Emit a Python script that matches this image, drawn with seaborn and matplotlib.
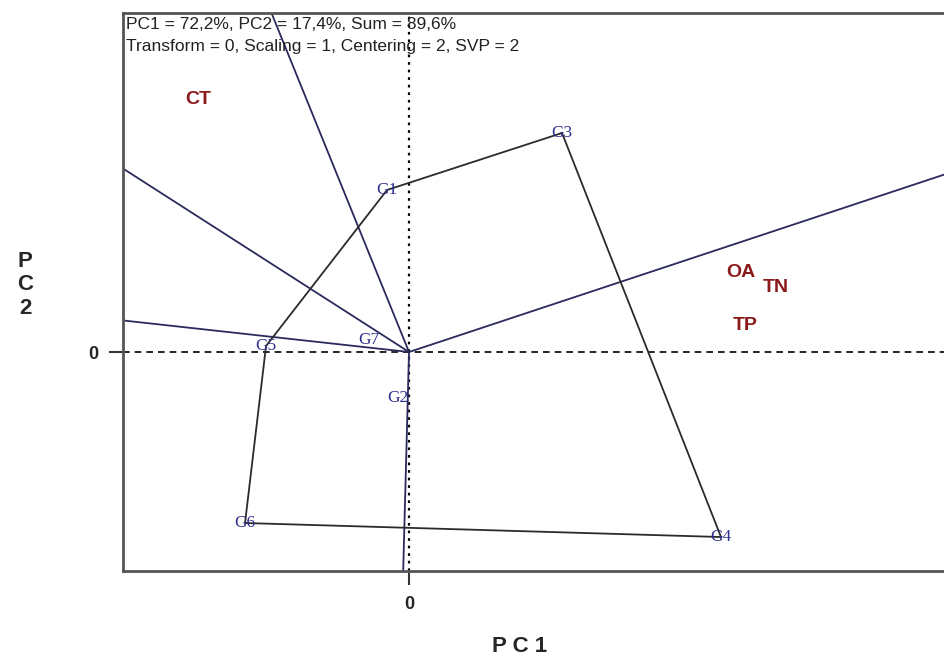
import seaborn as sns
import matplotlib.pyplot as plt
import pandas as pd

# genotype scores (PC1, PC2)
genotypes = ["G1", "G2", "G3", "G4", "G5", "G6", "G7"]
g_pc1 = [-0.22, -0.11, 1.53, 3.12, -1.43, -1.64, -0.40]
g_pc2 = [1.62, -0.46, 2.19, -1.85, 0.06, -1.71, 0.12]

# environment / trait labels
envs = ["CT", "OA", "TN", "TP"]
e_pc1 = [-2.11, 3.32, 3.67, 3.36]
e_pc2 = [2.52, 0.80, 0.65, 0.27]

# convex hull order (which-won-where polygon)
hull = ["G3", "G4", "G6", "G5", "G1", "G3"]

# rays from origin, perpendicular to polygon sides (end points)
ray_pc1 = [-1.40, -2.90, -2.90, -0.06, 5.40]
ray_pc2 = [3.45, 1.86, 0.32, -2.25, 1.79]

header = ["PC1 = 72,2%, PC2 = 17,4%, Sum = 89,6%",
          "Transform = 0, Scaling = 1, Centering = 2, SVP = 2"]

sns.set_style("white")
plt.rcParams['font.family'] = ['Liberation Sans', 'DejaVu Sans']

gdf = pd.DataFrame({"name": genotypes, "pc1": g_pc1, "pc2": g_pc2}).set_index("name")
poly = gdf.loc[hull].reset_index()

fig = plt.figure(figsize=(9.45, 6.59), dpi=100)
ax = fig.add_axes([0.1302, 0.1335, 0.8698, 0.8468])

# reference axes
ax.axhline(0, color="black", lw=1.2, ls=(0, (4, 3)), zorder=1)
ax.axvline(0, color="black", lw=1.6, ls=(0, (1.2, 2.2)), zorder=1)

# rays
for x, y in zip(ray_pc1, ray_pc2):
    sns.lineplot(x=[0, x], y=[0, y], ax=ax, color="#2a2a5e", lw=1.3,
                 sort=False, estimator=None, zorder=2)

# polygon
sns.lineplot(data=poly, x="pc1", y="pc2", ax=ax, color="#2b2b2b", lw=1.3,
             sort=False, estimator=None, zorder=2)

for name, x, y in zip(genotypes, g_pc1, g_pc2):
    ax.text(x, y, name, color="#2e2e8e", fontsize=12.5, ha="center", va="center",
            family=["Liberation Serif", "DejaVu Serif"], zorder=3)

for name, x, y in zip(envs, e_pc1, e_pc2):
    ax.text(x, y, name, color="#8b1a1a", fontsize=14, fontweight="bold",
            ha="center", va="center", zorder=3)

ax.text(0.004, 0.993, "\n".join(header), transform=ax.transAxes, fontsize=12.5,
        ha="left", va="top", linespacing=1.6, color="#222222")

ax.set_xlim(-2.86, 5.36)
ax.set_ylim(-2.19, 3.39)
ax.set_xticks([0])
ax.set_yticks([0])
ax.set_xticklabels(["0"], fontsize=13, fontweight="bold")
ax.set_yticklabels(["0"], fontsize=13, fontweight="bold")
ax.tick_params(axis="both", direction="out", length=10, width=1.5,
               color="#333333", pad=8, bottom=True, left=True)

for s in ["left", "bottom", "top"]:
    ax.spines[s].set_color("#555555")
    ax.spines[s].set_linewidth(2)
ax.spines["right"].set_visible(False)

ax.set_xlabel("")
ax.set_ylabel("")
fig.text(520 / 945, 1 - 646 / 659, "P C 1", fontsize=16, fontweight="bold",
         ha="center", va="center")
fig.text(25 / 945, 1 - 285 / 659, "P\nC\n2", fontsize=16, fontweight="bold",
         ha="center", va="center", linespacing=1.15)

fig.savefig("out.png", dpi=100)
